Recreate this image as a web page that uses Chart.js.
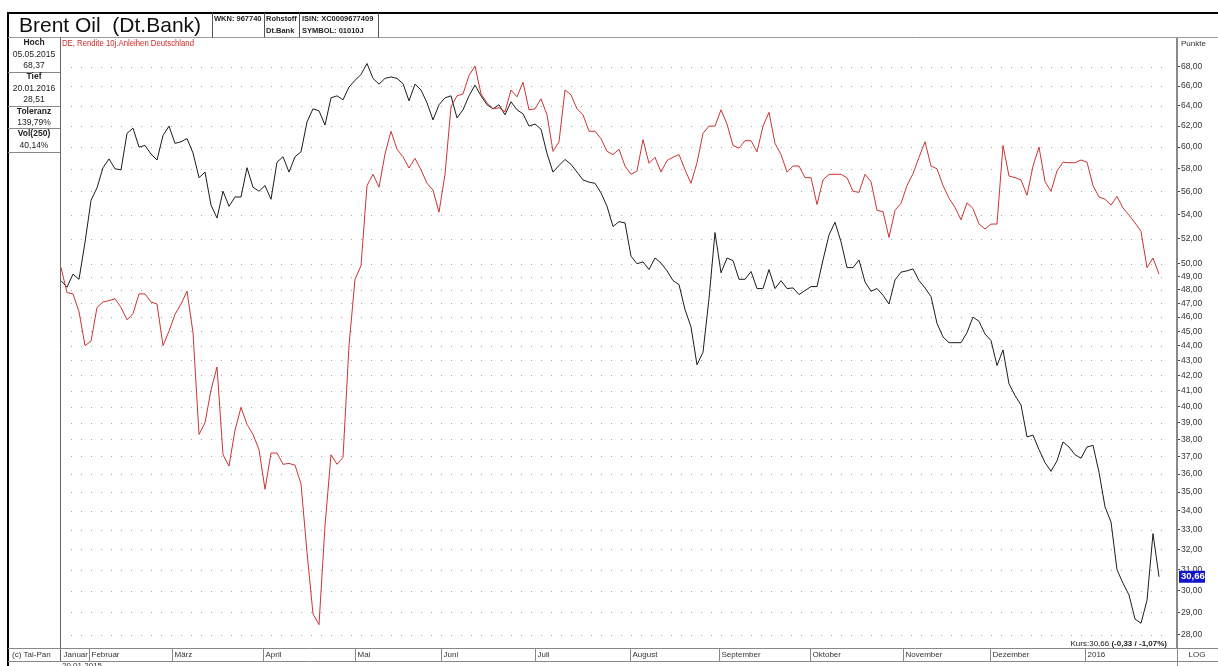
<!DOCTYPE html>
<html>
<head>
<meta charset="utf-8">
<script src="https://cdn.jsdelivr.net/npm/chart.js@4/dist/chart.umd.min.js"></script>
<style>
html,body{margin:0;padding:0;background:#fff;}
#wrap{width:1218px;height:666px;position:relative;}
</style>
</head>
<body>
<div id="wrap"><canvas id="c" width="1218" height="666"></canvas></div>
<script>
// Brent Oil (black) and DE 10y yield overlay (red)
const brent=[48.7,48.2,49.2,48.8,51.7,55.2,56.3,58.1,58.9,58.0,57.9,61.3,61.8,60.0,60.15,59.35,58.8,61.1,62.0,60.35,60.5,60.8,59.45,57.2,57.7,54.8,53.7,
  56.0,54.7,55.5,55.5,58.1,56.35,56.0,56.5,55.3,58.6,59.1,57.7,59.1,59.55,62.4,63.7,63.5,62.1,64.8,65.0,64.6,65.9,66.6,67.2,68.37,66.8,
  66.2,66.8,66.95,66.8,66.25,64.5,66.2,65.6,64.3,62.6,64.1,64.8,65.0,62.8,63.6,65.0,66.1,65.0,64.1,63.7,64.1,63.1,64.4,63.6,63.2,62.0,
  62.2,61.7,59.4,57.7,58.3,58.85,58.4,57.7,57.0,56.8,56.7,55.85,54.7,53.0,53.4,53.3,50.6,50.0,50.15,49.55,50.45,50.05,49.45,48.7,48.4,46.55,45.3,
  42.7,43.55,47.35,52.5,49.3,50.45,50.25,48.8,48.8,49.4,48.1,48.1,49.55,48.1,48.7,48.1,48.15,47.65,47.95,48.25,48.25,50.3,52.3,53.35,51.75,49.7,
  49.7,50.3,48.6,47.9,48.1,47.6,46.95,48.75,49.35,49.45,49.6,48.7,48.15,47.5,45.55,44.6,44.2,44.2,44.2,44.9,46.0,45.7,44.8,44.35,42.65,43.7,
  41.45,40.7,40.1,38.15,38.25,37.4,36.65,36.15,36.75,37.85,37.55,37.1,36.9,37.55,37.65,36.1,34.2,33.4,31.0,30.35,29.8,28.7,28.51,29.55,32.8,30.66];
const rendite=[49.7,47.8,47.7,46.4,44.0,44.3,46.7,47.1,47.2,47.35,46.7,45.8,46.25,47.7,47.7,47.1,46.95,44.0,45.0,46.2,46.95,47.9,44.9,38.3,39.0,41.05,42.55,
  37.1,36.45,38.55,39.95,38.9,38.3,37.4,35.15,37.2,37.2,36.55,36.6,36.5,35.45,31.85,28.93,28.45,33.2,37.1,36.55,36.95,44.0,48.8,49.85,56.5,57.5,
  56.35,59.35,61.5,59.8,59.1,58.07,58.95,57.9,56.7,56.1,54.2,57.5,63.9,65.0,65.2,67.1,68.1,65.2,64.3,63.7,63.8,63.4,65.6,64.9,66.4,63.6,
  63.7,64.7,63.1,59.6,60.5,65.6,65.1,63.7,63.1,61.5,61.5,60.8,59.6,59.3,59.8,58.25,57.5,57.8,60.7,58.5,59.05,57.7,58.75,59.05,59.3,57.9,56.7,
  58.55,61.3,62.0,62.0,63.6,62.2,60.15,59.9,60.6,60.6,59.55,62.0,63.35,60.35,59.3,57.7,58.25,58.25,57.2,57.2,54.85,57.0,57.5,57.5,57.5,57.2,
  56.0,55.9,57.5,56.85,54.35,54.25,52.1,54.35,54.95,56.5,57.55,59.05,60.5,58.25,58.0,56.5,55.4,54.6,53.55,55.0,54.5,53.2,52.8,53.2,53.2,60.15,
  57.35,57.2,57.0,55.65,58.25,60.0,56.85,56.0,57.8,58.6,58.55,58.55,58.8,58.6,56.5,55.5,55.3,54.8,55.55,54.55,53.95,53.3,52.6,49.7,50.45,49.2];
const months=["Januar","Februar","März","April","Mai","Juni","Juli","August","September","Oktober","November","Dezember","2016"];
const monthStart=[0,4.6,18.5,33.7,49,63.3,79,94.8,109.7,124.8,140.3,154.8,170.7];
const yTicks=[28,29,30,31,32,33,34,35,36,37,38,39,40,41,42,43,44,45,46,47,48,49,50,52,54,56,58,60,62,64,66,68];
const lastKurs=30.66;
const labels=Array.from({length:brent.length+3},(_,i)=>i);

const FONT="'Liberation Sans', Arial, sans-serif";
const de=v=>v.toFixed(2).replace(".",",");

function txt(ctx,s,x,y,size,color,bold,align,maxW){
  ctx.font=(bold?"bold ":"")+size+"px "+FONT; ctx.fillStyle=color;
  ctx.textAlign=align||"left"; ctx.textBaseline="middle";
  if(maxW) ctx.fillText(s,x,y,maxW); else ctx.fillText(s,x,y);
}
function hl(ctx,x1,x2,y,c,w){ctx.strokeStyle=c;ctx.lineWidth=w||1;ctx.beginPath();ctx.moveTo(x1,y);ctx.lineTo(x2,y);ctx.stroke();}
function vl(ctx,x,y1,y2,c,w){ctx.strokeStyle=c;ctx.lineWidth=w||1;ctx.beginPath();ctx.moveTo(x,y1);ctx.lineTo(x,y2);ctx.stroke();}

const frame={
  id:"frame",
  beforeDraw(chart){const ctx=chart.ctx;ctx.save();ctx.fillStyle="#fff";ctx.fillRect(0,0,chart.width,chart.height);ctx.restore();},
  beforeDatasetsDraw(chart){
    const ctx=chart.ctx, ys=chart.scales.y, ca=chart.chartArea;
    ctx.save(); ctx.fillStyle="#a4a4a4";
    yTicks.forEach(v=>{const y=Math.round(ys.getPixelForValue(v));
      for(let x=71;x<ca.right-10;x+=10) ctx.fillRect(x,y,1,1);});
    ctx.restore();
  },
  afterDraw(chart){
    const ctx=chart.ctx, ca=chart.chartArea, xs=chart.scales.x, ys=chart.scales.y;
    ctx.save();
    // outer frame + header
    hl(ctx,7,1218,13,"#000",2); vl(ctx,8,12,666,"#000",2);
    hl(ctx,8,1218,37.5,"#9a9a9a",1);
    [212.5,264.5,299.5,378.5].forEach(x=>vl(ctx,x,13,37.5,"#555",1));
    txt(ctx,"Brent Oil  (Dt.Bank)",19,26,21,"#111",false,"left",184);
    txt(ctx,"WKN: 967740",214,19,7.5,"#222",true,"left",48);
    txt(ctx,"Rohstoff",266,19,7.5,"#222",true,"left",32); txt(ctx,"Dt.Bank",266,31,7.5,"#222",true,"left",32);
    txt(ctx,"ISIN: XC0009677409",302,19,7.5,"#222",true,"left",73); txt(ctx,"SYMBOL: 01010J",302,31,7.5,"#222",true,"left",62);
    // left info panel
    vl(ctx,60.5,37.5,661,"#666",1);
    [72.5,106.5,128.5,152.5].forEach(y=>hl(ctx,8,60.5,y,"#888",1));
    const info=[["Hoch",43,true],["05.05.2015",55],["68,37",66],["Tief",77,true],["20.01.2016",89],["28,51",100],
      ["Toleranz",112,true],["139,79%",123],["Vol(250)",134,true],["40,14%",146]];
    info.forEach(r=>txt(ctx,r[0],34,r[1],8.5,"#222",!!r[2],"center"));
    txt(ctx,"DE, Rendite 10j.Anleihen Deutschland",62,44,8.5,"#d02828",false,"left",132);
    txt(ctx,"Punkte",1181,44,8,"#333");
    // current value box
    const yk=ys.getPixelForValue(lastKurs);
    ctx.fillStyle="#1414c8"; ctx.fillRect(ca.right+2,yk-6,26,12);
    txt(ctx,de(lastKurs),ca.right+4,yk,9.5,"#fff",true);
    ctx.font="8px "+FONT; const k1="Kurs:30,66 "; const w1=ctx.measureText(k1).width;
    ctx.font="bold 8px "+FONT; const w2=ctx.measureText("(-0,33 / -1,07%)").width;
    txt(ctx,k1,ca.right-10-w1-w2,644,8,"#222");
    txt(ctx,"(-0,33 / -1,07%)",ca.right-10-w2,644,8,"#222",true);
    // month row
    hl(ctx,8,1218,648.5,"#888",1); hl(ctx,8,1218,661.5,"#888",1);
    vl(ctx,ca.right+0.5,648,666,"#888",1);
    txt(ctx,"(c) Tai-Pan",12,655,8,"#333");
    txt(ctx,"LOG",1197,655,8,"#333",false,"center");
    months.forEach((m,i)=>{const x=Math.round(xs.getPixelForValue(monthStart[i]))+0.5;
      if(i>0) vl(ctx,x,648.5,661.5,"#888",1);
      txt(ctx,m,x+2,655,8,"#333");});
    txt(ctx,"20.01.2015",62,666,8,"#333");
    ctx.restore();
  }
};

new Chart(document.getElementById("c"),{
  type:"line",
  data:{labels,datasets:[
    {data:rendite,borderColor:"#cc3434",borderWidth:1,pointRadius:0,tension:0,fill:false},
    {data:brent,borderColor:"#1c1c1c",borderWidth:1,pointRadius:0,tension:0,fill:false}
  ]},
  options:{
    responsive:false,animation:false,events:[],
    layout:{padding:{left:61,top:38,bottom:18,right:0}},
    plugins:{legend:{display:false},tooltip:{enabled:false}},
    scales:{
      x:{type:"category",display:false,offset:false},
      y:{type:"logarithmic",position:"right",min:27.43,max:71.15,
        afterBuildTicks:s=>{s.ticks=yTicks.map(v=>({value:v}));},
        afterFit:s=>{s.width=41;},
        grid:{drawOnChartArea:false,drawTicks:true,tickLength:3,color:"#444",lineWidth:1},
        border:{display:true,color:"#8a8a8a",width:2},
        ticks:{autoSkip:false,padding:1,color:"#333",font:{size:8.5,family:FONT},callback:v=>de(Number(v))}
      }
    }
  },
  plugins:[frame]
});
</script>
</body>
</html>
